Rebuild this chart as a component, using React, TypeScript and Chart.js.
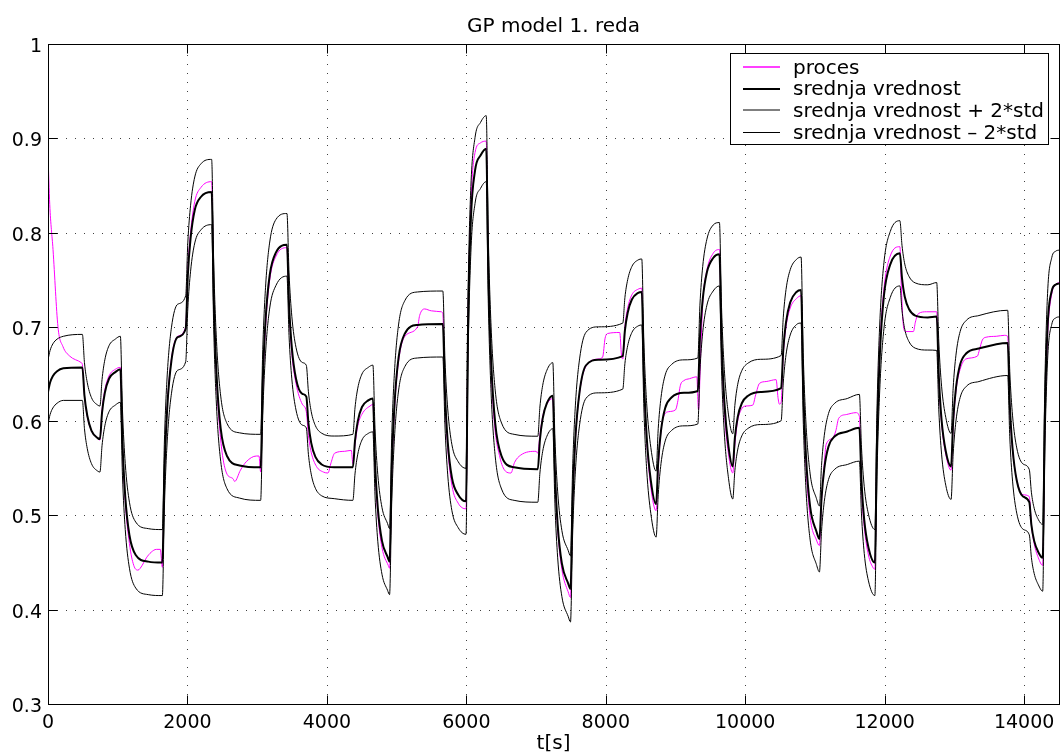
import React, { useEffect, useRef } from "react";
import { Chart, registerables } from "chart.js";

Chart.register(...registerables);

const TITLE = "GP model 1. reda";
const X_LABEL = "t[s]";
const xTickValues = [0, 2000, 4000, 6000, 8000, 10000, 12000, 14000];
const yTickValues = [0.3, 0.4, 0.5, 0.6, 0.7, 0.8, 0.9, 1];
const yTickLabels = ["0.3", "0.4", "0.5", "0.6", "0.7", "0.8", "0.9", "1"];
const legendLabels = [
  "proces",
  "srednja vrednost",
  "srednja vrednost + 2*std",
  "srednja vrednost \u2013 2*std",
];

// process output [t, y]
const procesData: number[][] = [
  [0, 0.883], [25, 0.83], [72, 0.782], [143, 0.7], [215, 0.679], [311, 0.669], [478, 0.662], [493, 0.66],
  [523, 0.627], [563, 0.605], [623, 0.59], [713, 0.582], [745, 0.58],
  [775, 0.612], [815, 0.633], [875, 0.648], [965, 0.655], [1038, 0.657],
  [1068, 0.575], [1108, 0.515], [1168, 0.47], [1230, 0.447], [1290, 0.442], [1350, 0.447], [1411, 0.455], [1480, 0.461], [1554, 0.464], [1611, 0.464], [1640, 0.445],
  [1670, 0.545], [1710, 0.615], [1770, 0.666], [1860, 0.69], [1975, 0.7],
  [2005, 0.76], [2045, 0.8], [2105, 0.833], [2195, 0.848], [2347, 0.854],
  [2377, 0.73], [2417, 0.645], [2477, 0.58], [2560, 0.545], [2653, 0.539], [2677, 0.536], [2760, 0.548], [2844, 0.557], [2988, 0.563], [3026, 0.563], [3050, 0.546],
  [3080, 0.635], [3120, 0.7], [3180, 0.75], [3270, 0.775], [3427, 0.784],
  [3457, 0.72], [3497, 0.672], [3557, 0.64], [3647, 0.618], [3705, 0.61],
  [3735, 0.585], [3775, 0.567], [3850, 0.552], [3950, 0.546], [4015, 0.545], [4060, 0.556], [4111, 0.566], [4254, 0.568], [4350, 0.569], [4373, 0.555],
  [4403, 0.575], [4443, 0.595], [4500, 0.607], [4636, 0.617], [4660, 0.618],
  [4690, 0.553], [4730, 0.502], [4790, 0.466], [4880, 0.447], [4899, 0.444],
  [4929, 0.54], [4969, 0.612], [5029, 0.664], [5119, 0.69], [5300, 0.7], [5330, 0.712], [5400, 0.719], [5500, 0.717], [5640, 0.716], [5663, 0.714],
  [5693, 0.628], [5733, 0.572], [5793, 0.532], [5883, 0.513], [5995, 0.507],
  [6025, 0.71], [6065, 0.83], [6125, 0.885], [6200, 0.895], [6285, 0.897],
  [6315, 0.76], [6355, 0.66], [6400, 0.6], [6480, 0.562], [6560, 0.547], [6640, 0.545], [6690, 0.556], [6780, 0.564], [7000, 0.568], [7025, 0.566],
  [7055, 0.585], [7095, 0.605], [7155, 0.618], [7240, 0.624],
  [7270, 0.546], [7310, 0.486], [7370, 0.443], [7460, 0.419], [7494, 0.413],
  [7524, 0.51], [7564, 0.58], [7624, 0.63], [7714, 0.658], [7900, 0.666], [7955, 0.668], [7990, 0.688], [8030, 0.693], [8200, 0.694], [8225, 0.67], [8244, 0.666],
  [8274, 0.7], [8314, 0.72], [8374, 0.734], [8464, 0.74], [8516, 0.741],
  [8546, 0.645], [8586, 0.58], [8646, 0.53], [8722, 0.505],
  [8752, 0.55], [8792, 0.59], [8830, 0.605], [8900, 0.61], [9000, 0.612], [9030, 0.62], [9070, 0.638], [9120, 0.643], [9200, 0.645], [9305, 0.647], [9330, 0.612],
  [9360, 0.67], [9390, 0.725], [9450, 0.76], [9540, 0.778], [9630, 0.782],
  [9660, 0.68], [9700, 0.612], [9760, 0.565], [9821, 0.545],
  [9851, 0.575], [9891, 0.6], [9941, 0.612], [10000, 0.616], [10108, 0.617], [10150, 0.628], [10204, 0.64], [10300, 0.642], [10443, 0.644], [10470, 0.625], [10490, 0.618], [10515, 0.62],
  [10545, 0.67], [10585, 0.7], [10645, 0.72], [10735, 0.73], [10801, 0.733],
  [10831, 0.635], [10871, 0.555], [10931, 0.498], [11021, 0.474], [11064, 0.468],
  [11094, 0.515], [11134, 0.555], [11159, 0.575], [11255, 0.582], [11300, 0.59], [11340, 0.603], [11450, 0.607], [11590, 0.609], [11637, 0.605],
  [11667, 0.53], [11707, 0.488], [11767, 0.458], [11830, 0.445], [11859, 0.443],
  [11889, 0.58], [11929, 0.675], [11989, 0.74], [12079, 0.775], [12218, 0.785],
  [12240, 0.74], [12270, 0.7], [12300, 0.695], [12412, 0.695], [12440, 0.705], [12483, 0.714], [12600, 0.716], [12746, 0.716],
  [12776, 0.645], [12816, 0.598], [12876, 0.565], [12952, 0.548],
  [12982, 0.595], [13022, 0.632], [13082, 0.655], [13167, 0.666], [13330, 0.669], [13360, 0.676], [13400, 0.686], [13454, 0.689], [13600, 0.69], [13717, 0.691], [13764, 0.69],
  [13794, 0.615], [13834, 0.57], [13894, 0.538], [13984, 0.522], [14074, 0.52],
  [14104, 0.49], [14144, 0.47], [14204, 0.455], [14266, 0.447],
  [14296, 0.59], [14336, 0.69], [14396, 0.735], [14456, 0.745], [14500, 0.747],
];

// GP model mean prediction [t, y]
const meanData: number[][] = [
  [0, 0.631], [30, 0.641], [70, 0.648], [130, 0.653], [220, 0.656],
  [493, 0.657], [523, 0.627], [563, 0.606], [623, 0.59], [713, 0.582],
  [745, 0.581], [775, 0.609], [815, 0.63], [875, 0.645], [965, 0.652],
  [1038, 0.655], [1068, 0.577], [1108, 0.52], [1168, 0.479], [1258, 0.458], [1438, 0.451],
  [1640, 0.45], [1670, 0.545], [1710, 0.614], [1770, 0.664], [1860, 0.689],
  [1975, 0.698], [2005, 0.754], [2045, 0.794], [2105, 0.824], [2195, 0.838],
  [2347, 0.843], [2377, 0.732], [2417, 0.65], [2477, 0.592], [2567, 0.563], [2747, 0.553],
  [3050, 0.551], [3080, 0.641], [3120, 0.707], [3180, 0.755], [3270, 0.779],
  [3427, 0.787], [3457, 0.724], [3497, 0.678], [3557, 0.645], [3647, 0.629],
  [3705, 0.626], [3735, 0.598], [3775, 0.577], [3835, 0.562], [3925, 0.554], [4105, 0.551],
  [4373, 0.551], [4403, 0.579], [4443, 0.6], [4503, 0.615], [4593, 0.622],
  [4660, 0.624], [4690, 0.557], [4730, 0.508], [4790, 0.473], [4870, 0.456],
  [4899, 0.451], [4929, 0.547], [4969, 0.617], [5029, 0.668], [5119, 0.693], [5299, 0.702],
  [5663, 0.703], [5693, 0.631], [5733, 0.578], [5793, 0.54], [5883, 0.522],
  [5995, 0.515], [6025, 0.702], [6065, 0.814], [6125, 0.866], [6205, 0.882],
  [6285, 0.889], [6315, 0.76], [6355, 0.665], [6415, 0.597], [6505, 0.563], [6685, 0.551],
  [7025, 0.549], [7055, 0.58], [7095, 0.603], [7155, 0.619],
  [7240, 0.627], [7270, 0.548], [7310, 0.49], [7370, 0.449], [7460, 0.428],
  [7494, 0.422], [7524, 0.514], [7564, 0.582], [7624, 0.631], [7714, 0.659], [7894, 0.665],
  [8244, 0.669], [8274, 0.696], [8314, 0.715], [8374, 0.729], [8464, 0.736],
  [8516, 0.737], [8546, 0.649], [8586, 0.584], [8646, 0.537],
  [8722, 0.512], [8752, 0.557], [8792, 0.59], [8852, 0.614], [8942, 0.625], [9122, 0.63],
  [9320, 0.632], [9350, 0.688], [9390, 0.729], [9450, 0.758], [9540, 0.773],
  [9630, 0.777], [9660, 0.687], [9700, 0.621], [9760, 0.573],
  [9821, 0.552], [9851, 0.582], [9891, 0.604], [9951, 0.619], [10041, 0.627], [10221, 0.631],
  [10515, 0.635], [10545, 0.675], [10585, 0.705], [10645, 0.726], [10735, 0.737],
  [10801, 0.739], [10831, 0.638], [10871, 0.563], [10931, 0.509], [11021, 0.483],
  [11064, 0.475], [11094, 0.518], [11134, 0.55], [11194, 0.573], [11284, 0.584], [11464, 0.589],
  [11637, 0.593], [11667, 0.537], [11707, 0.495], [11767, 0.466],
  [11859, 0.45], [11889, 0.576], [11929, 0.668], [11989, 0.733], [12079, 0.766],
  [12218, 0.778], [12248, 0.752], [12288, 0.732], [12348, 0.719], [12438, 0.712], [12618, 0.71],
  [12746, 0.711], [12776, 0.648], [12816, 0.601], [12876, 0.568],
  [12952, 0.552], [12982, 0.6], [13022, 0.635], [13082, 0.66], [13172, 0.672], [13352, 0.677],
  [13764, 0.683], [13794, 0.618], [13834, 0.571], [13894, 0.537], [13984, 0.52],
  [14074, 0.514], [14104, 0.49], [14144, 0.473], [14204, 0.461],
  [14266, 0.455], [14296, 0.6], [14336, 0.7], [14396, 0.738], [14456, 0.745], [14500, 0.746],
];

// standard deviation of the prediction, per input step (step start time, std)
const stepStart = [
  0, 493, 745, 1038, 1640, 1975, 2347, 3050, 3427, 3705, 4373, 4660, 4899, 5663, 5995, 6285, 7025, 7240,
  7494, 8244, 8516, 8722, 9320, 9630, 9821, 10515, 10801, 11064, 11637, 11859, 12218, 12746, 12952, 13764, 14074, 14266,
];
const stepStd = [
  0.017, 0.0175, 0.0175, 0.0175, 0.0175, 0.0175, 0.0173, 0.0175, 0.0166, 0.0166, 0.0175, 0.0177, 0.0175, 0.0175, 0.0175, 0.0175, 0.0175, 0.0175,
  0.0175, 0.0175, 0.0175, 0.0175, 0.0175, 0.0168, 0.0173, 0.0173, 0.0175, 0.0175, 0.0177, 0.0175, 0.0173, 0.018, 0.0175, 0.0173, 0.0173, 0.0177,
];

const FONT = "'DejaVu Sans', 'Liberation Sans', sans-serif";

function stdAt(t: number): number {
  let k = 0;
  for (let i = 0; i < stepStart.length; i++) if (stepStart[i] <= t) k = i;
  return stepStd[k];
}

const frame = {
  id: "matlabFrame",
  beforeDatasetsDraw(chart: any) {
    const { ctx, chartArea: a, scales } = chart;
    const xs = scales.x;
    const ys = scales.y;
    ctx.save();
    ctx.strokeStyle = "rgba(0,0,0,0.75)";
    ctx.lineWidth = 1;
    ctx.setLineDash([1, 8]);
    for (const v of xTickValues) {
      const px = Math.round(xs.getPixelForValue(v)) + 0.5;
      if (px <= a.left + 1 || px >= a.right - 1) continue;
      ctx.beginPath();
      ctx.moveTo(px, a.bottom);
      ctx.lineTo(px, a.top);
      ctx.stroke();
    }
    for (const v of yTickValues) {
      const py = Math.round(ys.getPixelForValue(v)) + 0.5;
      if (py <= a.top + 1 || py >= a.bottom - 1) continue;
      ctx.beginPath();
      ctx.moveTo(a.left, py);
      ctx.lineTo(a.right, py);
      ctx.stroke();
    }
    ctx.restore();
  },
  afterDatasetsDraw(chart: any) {
    const { ctx, chartArea: a, scales } = chart;
    const xs = scales.x;
    const ys = scales.y;
    const L = Math.round(a.left) + 0.5;
    const R = Math.round(a.right) + 0.5;
    const T = Math.round(a.top) + 0.5;
    const B = Math.round(a.bottom) + 0.5;
    ctx.save();
    ctx.setLineDash([]);
    ctx.strokeStyle = "#000";
    ctx.lineWidth = 1;
    ctx.strokeRect(L, T, R - L, B - T);
    const tl = 9;
    ctx.beginPath();
    for (const v of xTickValues) {
      const px = Math.round(xs.getPixelForValue(v)) + 0.5;
      ctx.moveTo(px, B);
      ctx.lineTo(px, B - tl);
      ctx.moveTo(px, T);
      ctx.lineTo(px, T + tl);
    }
    for (const v of yTickValues) {
      const py = Math.round(ys.getPixelForValue(v)) + 0.5;
      ctx.moveTo(L, py);
      ctx.lineTo(L + tl, py);
      ctx.moveTo(R, py);
      ctx.lineTo(R - tl, py);
    }
    ctx.stroke();

    // tick labels
    ctx.fillStyle = "#000";
    ctx.font = `19px ${FONT}`;
    ctx.textBaseline = "alphabetic";
    ctx.textAlign = "center";
    for (const v of xTickValues) {
      ctx.fillText(String(v), xs.getPixelForValue(v), 728);
    }
    ctx.textAlign = "right";
    yTickValues.forEach((v, i) => {
      ctx.fillText(yTickLabels[i], a.left - 6, ys.getPixelForValue(v) + 8);
    });

    // title and axis label
    ctx.font = `20px ${FONT}`;
    ctx.textAlign = "center";
    const cx = (a.left + a.right) / 2;
    ctx.fillText(TITLE, cx, 32);
    ctx.fillText(X_LABEL, cx, 749);

    // legend
    const lx = 730, ly = 53, lw = 318, lh = 91;
    ctx.fillStyle = "#fff";
    ctx.fillRect(lx, ly, lw, lh);
    ctx.strokeStyle = "#000";
    ctx.strokeRect(lx + 0.5, ly + 0.5, lw, lh);
    const baselines = [73.5, 95.2, 116.9, 138.6];
    const styles = [
      { c: "#ff00ff", w: 1.3, off: 0 },
      { c: "#000", w: 2, off: 0 },
      { c: "#000", w: 1, off: 0 },
      { c: "#000", w: 1, off: 0.5 },
    ];
    ctx.textAlign = "left";
    ctx.font = `20px ${FONT}`;
    legendLabels.forEach((lab, i) => {
      const yb = baselines[i];
      const sy = Math.round(yb - 6.5) + styles[i].off;
      ctx.strokeStyle = styles[i].c;
      ctx.lineWidth = styles[i].w;
      ctx.beginPath();
      ctx.moveTo(743, sy);
      ctx.lineTo(780, sy);
      ctx.stroke();
      ctx.fillStyle = "#000";
      ctx.fillText(lab, 793, yb);
    });
    ctx.restore();
  },
};

export default function App() {
  const ref = useRef<HTMLCanvasElement>(null);
  useEffect(() => {
    const canvas = ref.current;
    if (!canvas) return;
    const meanPts = meanData.map(([t, y]) => ({ x: t, y }));
    const upperPts = meanData.map(([t, y]) => ({ x: t, y: y + 2 * stdAt(t) }));
    const lowerPts = meanData.map(([t, y]) => ({ x: t, y: y - 2 * stdAt(t) }));
    const procPts = procesData.map(([t, y]) => ({ x: t, y }));
    const common = {
      pointRadius: 0,
      fill: false,
      cubicInterpolationMode: "monotone" as const,
    };
    const chart = new Chart(canvas, {
      type: "line",
      data: {
        datasets: [
          { ...common, label: legendLabels[0], data: procPts, borderColor: "#ff00ff", borderWidth: 1, order: 4 },
          { ...common, label: legendLabels[1], data: meanPts, borderColor: "#000", borderWidth: 2, order: 3 },
          { ...common, label: legendLabels[2], data: upperPts, borderColor: "#000", borderWidth: 1, order: 2 },
          { ...common, label: legendLabels[3], data: lowerPts, borderColor: "#000", borderWidth: 1, order: 1 },
        ],
      },
      options: {
        animation: false,
        responsive: false,
        devicePixelRatio: 1,
        layout: { padding: { top: 44, right: 2, left: 0, bottom: 0 } },
        plugins: {
          legend: { display: false },
          title: { display: false },
          tooltip: { enabled: false },
        },
        scales: {
          x: {
            type: "linear",
            min: 0,
            max: 14500,
            grid: { display: false },
            border: { display: false },
            ticks: { display: false },
            afterBuildTicks: (s: any) => {
              s.ticks = xTickValues.map((v) => ({ value: v }));
            },
            afterFit: (s: any) => {
              s.height = 51;
              s.paddingLeft = 0;
              s.paddingRight = 0;
            },
          },
          y: {
            type: "linear",
            min: 0.3,
            max: 1,
            grid: { display: false },
            border: { display: false },
            ticks: { display: false },
            afterBuildTicks: (s: any) => {
              s.ticks = yTickValues.map((v) => ({ value: v }));
            },
            afterFit: (s: any) => {
              s.width = 48;
              s.paddingTop = 0;
              s.paddingBottom = 0;
            },
          },
        },
      },
      plugins: [frame],
    } as any);
    return () => chart.destroy();
  }, []);
  return (
    <div style={{ position: "absolute", left: 0, top: 0, width: 1061, height: 755, background: "#fff" }}>
      <canvas ref={ref} width={1061} height={755} style={{ display: "block", width: 1061, height: 755 }} />
    </div>
  );
}
